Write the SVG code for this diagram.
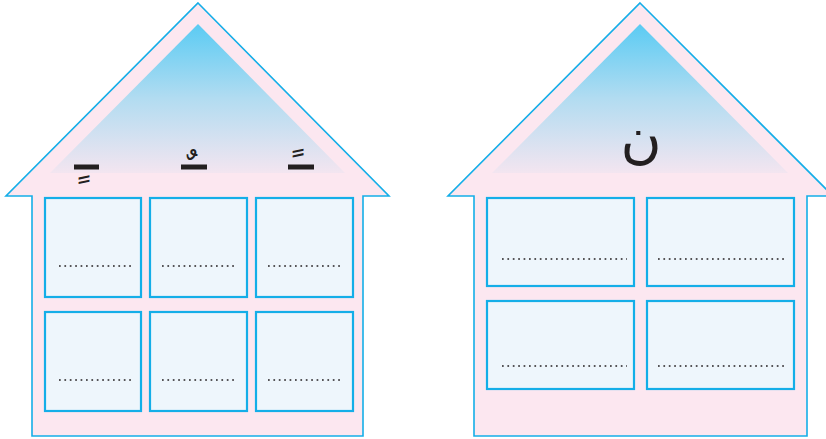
<svg xmlns="http://www.w3.org/2000/svg" width="826" height="439" viewBox="0 0 826 439">
<defs>
<linearGradient id="sky" x1="0" y1="0" x2="0" y2="1">
<stop offset="0" stop-color="#5ACBF3"/>
<stop offset="0.5" stop-color="#B2DCF1"/>
<stop offset="1" stop-color="#F3E5F0"/>
</linearGradient>
<clipPath id="above" clipPathUnits="userSpaceOnUse"><rect x="0" y="130" width="400" height="30"/></clipPath>
<clipPath id="below" clipPathUnits="userSpaceOnUse"><rect x="0" y="173" width="400" height="20"/></clipPath>
<style>
.house{fill:#FCE7F0;stroke:#14AEE8;stroke-width:1.6;stroke-linejoin:miter}
.win{fill:#EEF6FC;stroke:#14AEE8;stroke-width:2.2}
.dots{stroke:#231F20;stroke-width:1.7;stroke-dasharray:1.7 3.7;fill:none}
.bar{fill:#231F20}
.ar{font-family:"DejaVu Sans","Noto Sans",sans-serif;fill:#231F20}
</style>
</defs>
<g id="house-left">
<polygon class="house" points="198,3 389,196 363,196 363,436 32,436 32,196 6,196"/>
<polygon fill="url(#sky)" points="198,24 345,173 50,173"/>
<text class="ar" x="84" y="173" font-size="38" text-anchor="middle" direction="rtl" clip-path="url(#below)">ـٍ</text>
<text class="ar" x="192" y="182" font-size="38" text-anchor="middle" direction="rtl" clip-path="url(#above)">ـٌ</text>
<text class="ar" x="298" y="180" font-size="38" text-anchor="middle" direction="rtl" clip-path="url(#above)">ـً</text>
<rect class="bar" x="74" y="164.5" width="25" height="5"/>
<rect class="bar" x="181" y="164.5" width="26" height="5"/>
<rect class="bar" x="288" y="164.5" width="26" height="5"/>
<rect class="win" x="45" y="198" width="96" height="99"/>
<rect class="win" x="150" y="198" width="97" height="99"/>
<rect class="win" x="256" y="198" width="97" height="99"/>
<rect class="win" x="45" y="312" width="96" height="99"/>
<rect class="win" x="150" y="312" width="97" height="99"/>
<rect class="win" x="256" y="312" width="97" height="99"/>
<line class="dots" x1="59" y1="266" x2="131" y2="266"/>
<line class="dots" x1="162" y1="266" x2="234" y2="266"/>
<line class="dots" x1="268" y1="266" x2="340" y2="266"/>
<line class="dots" x1="59" y1="380" x2="131" y2="380"/>
<line class="dots" x1="162" y1="380" x2="234" y2="380"/>
<line class="dots" x1="268" y1="380" x2="340" y2="380"/>
</g>
<g id="house-right">
<polygon class="house" points="640,3 833,196 807,196 807,436 474,436 474,196 448,196"/>
<polygon fill="url(#sky)" points="640,24 788,173 492,173"/>
<text class="ar" x="641" y="157" font-size="56" text-anchor="middle" direction="rtl">ن</text>
<rect class="win" x="487" y="198" width="147" height="88"/>
<rect class="win" x="647" y="198" width="147" height="88"/>
<rect class="win" x="487" y="301" width="147" height="88"/>
<rect class="win" x="647" y="301" width="147" height="88"/>
<line class="dots" x1="502" y1="259" x2="627" y2="259"/>
<line class="dots" x1="658" y1="259" x2="785" y2="259"/>
<line class="dots" x1="502" y1="366" x2="627" y2="366"/>
<line class="dots" x1="658" y1="366" x2="785" y2="366"/>
</g>
</svg>
